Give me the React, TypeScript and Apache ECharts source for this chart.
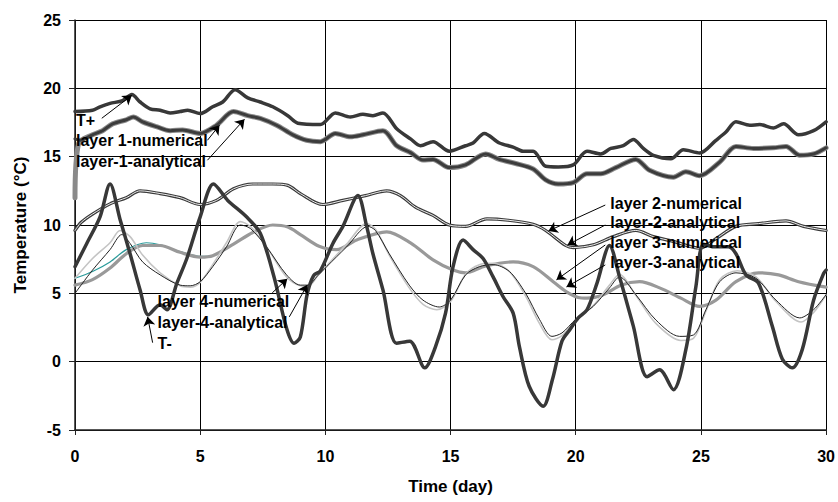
import React, { useEffect, useRef } from "react";
import * as echarts from "echarts";

type Pt = [number, number];

const xTicks = { min: 0, max: 30, interval: 5 };
const yTicks = { min: -5, max: 25, interval: 5 };
const xName = "Time (day)";
const yName = "Temperature (°C)";

const tPlus: Pt[] = [
  [0, 18.3], [0.7, 18.4], [1.0, 18.65], [1.4, 18.9], [1.9, 19.1], [2.27, 19.55], [2.6, 19.0],
  [3.0, 18.5], [3.4, 18.4], [3.8, 18.2], [4.2, 18.3], [4.5, 18.4], [5.0, 18.15], [5.5, 18.65],
  [5.9, 19.0], [6.4, 19.9], [6.9, 19.3], [7.4, 19.0], [7.9, 18.65], [8.5, 18.0], [8.9, 17.45],
  [9.8, 17.35], [10.4, 18.2], [11.0, 17.9], [11.5, 18.1], [11.9, 18.0], [12.3, 18.2], [12.85, 17.05],
  [13.4, 16.3], [13.8, 15.8], [14.3, 16.1], [14.95, 15.4], [15.6, 15.8], [15.9, 16.0], [16.35, 16.7],
  [16.95, 16.0], [17.5, 15.7], [17.9, 15.4], [18.3, 15.4], [18.8, 14.3], [19.3, 14.25], [19.9, 14.4],
  [20.45, 15.4], [21.0, 15.2], [21.4, 15.6], [21.9, 15.8], [22.3, 16.25], [22.7, 15.6], [23.1, 15.1],
  [23.8, 14.85], [24.3, 15.5], [24.95, 15.27], [25.6, 16.2], [26.0, 16.8], [26.4, 17.55], [26.95, 17.3],
  [27.35, 17.35], [27.9, 17.1], [28.3, 17.4], [28.9, 16.6], [29.5, 16.9], [30, 17.55],
];

const layer1Numerical: Pt[] = [
  [0, 16.3], [0.2, 16.2], [0.7, 16.6], [1.1, 16.9], [1.5, 17.4], [2.05, 17.7], [2.33, 17.9],
  [2.7, 17.55], [3.25, 17.2], [3.8, 16.9], [4.3, 16.95], [5.0, 16.7], [5.65, 17.3], [6.33, 18.3],
  [6.9, 18.0], [7.4, 17.8], [8.05, 17.3], [8.7, 16.6], [9.25, 16.2], [9.8, 16.1], [10.4, 16.7],
  [11.0, 16.45], [11.5, 16.6], [12.3, 16.9], [12.85, 15.8], [13.4, 15.3], [13.9, 14.75], [14.3, 14.8],
  [14.95, 14.2], [15.6, 14.4], [16.4, 15.2], [16.95, 14.8], [17.6, 14.5], [18.3, 14.1], [18.8, 13.3],
  [19.3, 13.0], [19.9, 13.1], [20.45, 13.75], [21.0, 13.75], [21.6, 14.2], [22.4, 14.8], [22.95, 14.0],
  [23.9, 13.5], [24.4, 13.9], [24.95, 13.6], [25.75, 14.6], [26.4, 15.75], [27.1, 15.6], [27.9, 15.65],
  [28.4, 15.75], [28.95, 15.1], [29.5, 15.2], [30, 15.65],
];

const layer1Analytical: Pt[] = [
  [0, 12.0], [0.15, 16.0], [0.7, 16.6], [1.1, 16.9], [1.5, 17.4], [2.05, 17.7], [2.33, 17.9],
  [2.7, 17.55], [3.25, 17.2], [3.8, 16.9], [4.3, 16.95], [5.0, 16.7], [5.65, 17.3], [6.33, 18.3],
  [6.9, 18.0], [7.4, 17.8], [8.05, 17.3], [8.7, 16.6], [9.25, 16.2], [9.8, 16.1], [10.4, 16.7],
  [11.0, 16.45], [11.5, 16.6], [12.3, 16.9], [12.85, 15.8], [13.4, 15.3], [13.9, 14.75], [14.3, 14.8],
  [14.95, 14.2], [15.6, 14.4], [16.4, 15.2], [16.95, 14.8], [17.6, 14.5], [18.3, 14.1], [18.8, 13.3],
  [19.3, 13.0], [19.9, 13.1], [20.45, 13.75], [21.0, 13.75], [21.6, 14.2], [22.4, 14.8], [22.95, 14.0],
  [23.9, 13.5], [24.4, 13.9], [24.95, 13.6], [25.75, 14.6], [26.4, 15.75], [27.1, 15.6], [27.9, 15.65],
  [28.4, 15.75], [28.95, 15.1], [29.5, 15.2], [30, 15.65],
];

const layer2Numerical: Pt[] = [
  [0, 9.6], [0.25, 10.2], [0.7, 10.8], [1.4, 11.55], [2.05, 12.0], [2.6, 12.5], [3.4, 12.3],
  [4.2, 12.0], [5.0, 11.5], [5.65, 11.8], [6.33, 12.65], [7.1, 13.0], [7.9, 13.0], [8.5, 12.9],
  [9.0, 12.3], [9.9, 11.5], [10.7, 11.8], [11.6, 12.15], [12.45, 12.5], [13.0, 12.15], [13.6, 11.3],
  [14.3, 10.7], [14.95, 10.0], [15.6, 9.9], [16.45, 10.45], [17.3, 10.35], [18.3, 10.05], [18.8, 9.6],
  [19.6, 8.5], [19.9, 8.35], [20.7, 8.55], [21.5, 9.15], [22.4, 9.6], [23.1, 9.15], [23.9, 8.8],
  [24.95, 8.3], [25.6, 9.0], [26.4, 9.9], [27.3, 10.1], [28.4, 10.3], [29.1, 9.9], [30, 9.6],
];

const layer2Analytical: Pt[] = [
  [0, 9.6], [0.25, 10.2], [0.7, 10.8], [1.4, 11.55], [2.05, 12.0], [2.6, 12.5], [3.4, 12.3],
  [4.2, 12.0], [5.0, 11.5], [5.65, 11.8], [6.33, 12.65], [7.1, 13.0], [7.9, 13.0], [8.5, 12.9],
  [9.0, 12.3], [9.9, 11.5], [10.7, 11.8], [11.6, 12.15], [12.45, 12.5], [13.0, 12.15], [13.6, 11.3],
  [14.3, 10.7], [14.95, 10.0], [15.6, 9.9], [16.45, 10.45], [17.3, 10.35], [18.3, 10.05], [18.8, 9.6],
  [19.6, 8.5], [19.9, 8.35], [20.7, 8.55], [21.5, 9.15], [22.4, 9.6], [23.1, 9.15], [23.9, 8.8],
  [24.95, 8.3], [25.6, 9.0], [26.4, 9.9], [27.3, 10.1], [28.4, 10.3], [29.1, 9.9], [30, 9.6],
];

const layer3Numerical: Pt[] = [
  [0, 6.1], [0.7, 6.6], [1.4, 7.3], [2.05, 8.2], [2.85, 8.7], [3.4, 8.55], [4.2, 8.05], [5.0, 7.7],
  [5.5, 7.75], [6.33, 8.6], [7.1, 9.45], [7.9, 10.0], [8.5, 9.85], [9.0, 9.3], [9.75, 8.45],
  [10.45, 8.2], [11.25, 8.9], [12.45, 9.5], [13.4, 8.7], [14.3, 7.45], [15.1, 6.7], [15.6, 6.5],
  [16.4, 7.0], [17.5, 7.3], [18.3, 6.95], [19.1, 5.85], [19.6, 5.15], [20.1, 4.7], [20.45, 4.65],
  [21.1, 4.9], [21.8, 5.6], [22.55, 5.85], [23.35, 5.4], [24.2, 4.65], [24.95, 4.05], [25.6, 4.5],
  [26.4, 5.85], [27.3, 6.5], [28.1, 6.35], [28.9, 5.85], [30, 5.45],
];

const layer3Analytical: Pt[] = [
  [0, 5.6], [0.7, 6.0], [1.4, 6.85], [2.05, 7.9], [2.7, 8.5], [3.4, 8.5], [4.2, 8.0], [5.0, 7.65],
  [5.5, 7.75], [6.33, 8.6], [7.1, 9.45], [7.9, 10.0], [8.5, 9.85], [9.0, 9.3], [9.75, 8.45],
  [10.45, 8.2], [11.25, 8.9], [12.45, 9.5], [13.4, 8.7], [14.3, 7.45], [15.1, 6.7], [15.6, 6.5],
  [16.4, 7.0], [17.5, 7.3], [18.3, 6.95], [19.1, 5.85], [19.6, 5.15], [20.1, 4.7], [20.45, 4.65],
  [21.1, 4.9], [21.8, 5.6], [22.55, 5.85], [23.35, 5.4], [24.2, 4.65], [24.95, 4.05], [25.6, 4.5],
  [26.4, 5.85], [27.3, 6.5], [28.1, 6.35], [28.9, 5.85], [30, 5.45],
];

const layer4Numerical: Pt[] = [
  [0, 5.0], [0.7, 6.7], [1.4, 8.2], [1.87, 9.3], [2.2, 8.65], [2.7, 7.3], [3.4, 6.35], [4.2, 5.6],
  [4.6, 5.55], [5.0, 5.85], [5.5, 6.95], [6.05, 8.4], [6.6, 10.0], [7.0, 9.75], [7.65, 8.4],
  [8.45, 6.35], [9.0, 5.6], [9.3, 5.6], [9.7, 6.3], [10.05, 6.95], [10.85, 8.4], [11.7, 9.9],
  [12.0, 9.6], [12.55, 7.9], [13.35, 5.6], [13.9, 4.5], [14.55, 4.0], [15.0, 4.5], [15.6, 6.35],
  [16.15, 6.95], [16.7, 7.1], [17.35, 6.6], [18.0, 5.0], [18.55, 3.1], [19.05, 1.85], [19.45, 2.1],
  [20.0, 3.1], [20.7, 4.05], [21.35, 5.4], [21.75, 6.2], [22.4, 4.9], [23.2, 3.05], [24.15, 1.85],
  [24.7, 1.95], [25.2, 3.8], [25.75, 5.85], [26.4, 6.5], [27.2, 6.1], [28.0, 4.5], [28.95, 3.2],
  [29.5, 3.8], [30, 4.9],
];

const layer4Analytical: Pt[] = [
  [0, 6.1], [0.7, 7.55], [1.4, 8.7], [1.8, 9.6], [2.2, 9.15], [2.7, 7.8], [3.4, 6.5], [4.2, 5.55],
  [4.6, 5.45], [5.0, 5.8], [5.5, 7.1], [6.05, 8.7], [6.6, 10.25], [7.0, 9.9], [7.65, 8.4],
  [8.45, 6.2], [9.0, 5.55], [9.3, 5.5], [9.7, 6.3], [10.05, 7.0], [10.85, 8.6], [11.65, 10.1],
  [12.0, 9.7], [12.55, 7.8], [13.35, 5.4], [13.9, 4.2], [14.45, 3.8], [15.0, 4.4], [15.6, 6.4],
  [16.15, 7.1], [16.7, 7.2], [17.35, 6.6], [18.0, 4.8], [18.55, 2.8], [19.05, 1.6], [19.45, 1.9],
  [20.0, 3.0], [20.7, 4.1], [21.35, 5.6], [21.75, 6.4], [22.4, 4.85], [23.2, 2.8], [24.2, 1.55],
  [24.7, 1.7], [25.2, 3.7], [25.75, 6.0], [26.45, 6.65], [27.2, 6.2], [28.0, 4.4], [29.0, 2.9],
  [29.5, 3.6], [30, 4.9],
];

const tMinus: Pt[] = [
  [0, 6.95], [0.47, 8.65], [1.0, 10.6], [1.4, 13.0], [1.8, 10.4], [2.2, 7.9], [2.6, 5.25],
  [2.93, 3.43], [3.4, 4.16], [3.67, 3.8], [4.07, 5.75], [4.47, 7.57], [5.0, 10.6], [5.53, 13.0],
  [6.1, 11.8], [6.85, 10.6], [7.4, 9.4], [7.95, 6.2], [8.45, 2.45], [8.75, 1.35], [9.0, 1.8],
  [9.27, 4.9], [9.53, 6.3], [9.8, 6.65], [10.3, 8.65], [10.7, 9.9], [11.3, 12.15], [11.65, 9.9],
  [11.9, 7.9], [12.3, 5.25], [12.84, 1.35], [13.37, 1.5], [13.97, -0.45], [14.4, 1.1], [14.8, 3.55],
  [15.1, 6.95], [15.5, 8.9], [15.9, 8.2], [16.3, 7.55], [16.7, 6.2], [17.1, 4.75], [17.5, 3.55],
  [17.75, 1.1], [18.14, -1.8], [18.7, -3.26], [19.07, -1.3], [19.45, 1.5], [19.75, 2.3], [20.1, 3.2],
  [20.45, 3.8], [20.85, 5.75], [21.35, 8.5], [21.75, 6.2], [22.3, 2.6], [22.85, -1.1], [23.35, -0.6],
  [23.9, -2.05], [24.4, 0.9], [24.8, 5.5], [25.1, 8.6], [25.5, 8.4], [26.1, 8.4], [26.4, 7.9],
  [26.8, 6.35], [27.3, 5.75], [27.85, 2.6], [28.25, 0.2], [28.65, -0.45], [29.05, 0.9], [29.5, 4.5],
  [29.9, 6.45], [30, 6.7],
];

// annotation texts: [label, day, temperature] (left edge, vertical middle)
const noteLabels: [string, number, number][] = [
  ["T+", 0.04, 17.66],
  ["layer 1-numerical", 0.04, 16.2],
  ["layer-1-analytical", 0.04, 14.67],
  ["layer 4-numerical", 3.3, 4.38],
  ["layer-4-analytical", 3.3, 2.85],
  ["T-", 3.3, 1.31],
  ["layer 2-numerical", 21.38, 11.6],
  ["layer-2-analytical", 21.38, 10.15],
  ["layer 3-numerical", 21.38, 8.69],
  ["layer-3-analytical", 21.38, 7.23],
];

// annotation arrows: [fromDay, fromT, toDay, toT]
const noteArrows: [number, number, number, number][] = [
  [1.07, 17.81, 2.27, 19.49],
  [5.29, 16.2, 5.77, 17.3],
  [5.29, 14.74, 6.77, 17.74],
  [7.88, 5.04, 8.48, 6.06],
  [8.56, 3.28, 9.28, 5.62],
  [3.1, 1.39, 2.9, 3.28],
  [21.18, 11.46, 18.91, 9.56],
  [21.18, 10.0, 19.67, 8.54],
  [21.18, 8.54, 19.23, 5.99],
  [21.18, 7.08, 19.63, 5.47],
];

const FONT = "'Liberation Sans', Arial, Helvetica, sans-serif";

function lineSeries(name: string, data: Pt[], color: string, width: number, extra: any = {}) {
  return {
    name,
    type: "line",
    data,
    smooth: 0.3,
    showSymbol: false,
    symbol: "none",
    silent: true,
    lineStyle: { color, width, cap: "round", join: "round" },
    itemStyle: { color },
    ...extra,
  };
}

export default function App() {
  const ref = useRef<HTMLDivElement>(null);
  useEffect(() => {
    if (!ref.current) return;
    const chart = echarts.init(ref.current, undefined, { renderer: "svg" });
    const axisLabel = { color: "#000", fontWeight: "bold", fontSize: 16, fontFamily: FONT };
    const option: any = {
      animation: false,
      backgroundColor: "#fff",
      grid: { left: 75, right: 10, top: 20, bottom: 72, containLabel: false },
      xAxis: {
        type: "value",
        ...xTicks,
        name: xName,
        nameLocation: "middle",
        nameGap: 48,
        nameTextStyle: { color: "#000", fontWeight: "bold", fontSize: 17, fontFamily: FONT },
        axisLine: { show: true, onZero: false, lineStyle: { color: "#222", width: 1.5 } },
        axisTick: { show: true, length: 5, lineStyle: { color: "#222" } },
        axisLabel: { ...axisLabel, margin: 18 },
        splitLine: { show: true, lineStyle: { color: "#000", width: 1 } },
      },
      yAxis: {
        type: "value",
        ...yTicks,
        name: yName,
        nameLocation: "middle",
        nameGap: 46,
        nameTextStyle: { color: "#000", fontWeight: "bold", fontSize: 17, fontFamily: FONT },
        axisLine: { show: true, onZero: false, lineStyle: { color: "#222", width: 1.5 } },
        axisTick: { show: true, length: 6, lineStyle: { color: "#222" } },
        axisLabel: { ...axisLabel, margin: 14 },
        splitLine: { show: true, lineStyle: { color: "#000", width: 1 } },
      },
      series: [
        lineSeries("layer 3-numerical", layer3Numerical, "#2a9a9a", 1.2),
        lineSeries("layer-3-analytical", layer3Analytical, "#999999", 3.2),
        lineSeries("layer-4-analytical", layer4Analytical, "#c4c4c4", 1.6),
        lineSeries("layer 4-numerical", layer4Numerical, "#222222", 1),
        lineSeries("layer-2-analytical", layer2Analytical, "#3a3a3a", 3.2),
        lineSeries("layer 2-numerical", layer2Numerical, "#eeeeee", 1),
        lineSeries("layer-1-analytical", layer1Analytical, "#8a8a8a", 5),
        lineSeries("layer 1-numerical", layer1Numerical, "#3c3c3c", 3),
        lineSeries("T+", tPlus, "#383838", 3.5),
        lineSeries("T-", tMinus, "#383838", 3.5, {
          markLine: {
            silent: true,
            symbol: ["none", "arrow"],
            symbolSize: 9,
            label: { show: false },
            lineStyle: { color: "#000", width: 1, type: "solid" },
            data: noteArrows.map(([x1, y1, x2, y2]) => [
              { coord: [x1, y1] },
              { coord: [x2, y2] },
            ]),
          },
          markPoint: {
            silent: true,
            symbol: "circle",
            symbolSize: 0,
            itemStyle: { color: "transparent" },
            label: {
              show: true,
              position: "right",
              distance: 0,
              formatter: "{b}",
              color: "#000",
              fontWeight: "bold",
              fontSize: 16,
              fontFamily: FONT,
            },
            data: noteLabels.map(([name, x, y]) => ({ name, coord: [x, y] })),
          },
        }),
      ],
    };
    chart.setOption(option);
    return () => chart.dispose();
  }, []);
  return (
    <div
      ref={ref}
      style={{ position: "fixed", left: 0, top: 0, width: 838, height: 502 }}
    />
  );
}
